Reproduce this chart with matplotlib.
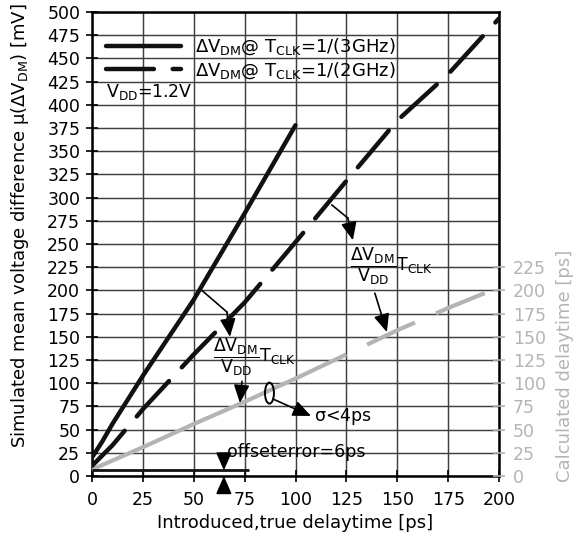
import matplotlib
matplotlib.use("Agg")
import matplotlib.pyplot as plt
from matplotlib.patches import Ellipse

plt.rcParams["font.family"] = ["DejaVu Sans"]
plt.rcParams["mathtext.fontset"] = "custom"
plt.rcParams["mathtext.rm"] = "DejaVu Sans"
plt.rcParams["mathtext.it"] = "DejaVu Sans"
plt.rcParams["mathtext.sf"] = "DejaVu Sans"
plt.rcParams["mathtext.bf"] = "DejaVu Sans:bold"
plt.rcParams["lines.scale_dashes"] = False

# ---- data -------------------------------------------------------------
delay_3ghz = [0, 5, 10, 25, 50, 75, 100]            # introduced delay [ps]
dvdm_3ghz = [20, 37, 56, 108, 190, 283, 378]         # mean dV_DM [mV]

delay_2ghz = [0, 10, 25, 50, 75, 100, 125, 150, 175, 200]
dvdm_2ghz = [11, 33, 72, 131, 187, 252, 318, 383, 433, 493]

delay_true = [0, 25, 50, 75, 100, 125, 150, 175, 194]  # introduced delay [ps]
delay_calc = [7, 31, 56, 80, 105, 131, 157, 181, 198]  # calculated delay [ps]
split_at = 125                                          # solid up to here, dashed beyond

offset_ps = 6
offset_span = 77

x_ticks = list(range(0, 201, 25))
y_ticks = list(range(0, 501, 25))
y2_ticks = list(range(0, 226, 25))

GRAY = "#b4b4b4"
FS = 12.5
LFS = 13

fig = plt.figure(figsize=(5.76, 5.45), dpi=100)
ax = fig.add_axes([92 / 576, 1 - 476 / 545, 407 / 576, 464 / 545])

ax.set_xlim(0, 200)
ax.set_ylim(0, 500)
ax.set_xticks(x_ticks)
ax.set_yticks(y_ticks)
ax.grid(True, color="#404040", lw=1.05)
ax.set_axisbelow(True)
for s in ax.spines.values():
    s.set_linewidth(1.8)
ax.tick_params(direction="inout", length=9, width=1.2, labelsize=FS, pad=4)
ax.tick_params(axis="x", pad=6)

# measured curves
l3, = ax.plot(delay_3ghz, dvdm_3ghz, color="#111111", lw=3.2,
              solid_capstyle="round", solid_joinstyle="round", zorder=4)
l2, = ax.plot(delay_2ghz, dvdm_2ghz, color="#111111", lw=3.2,
              linestyle=(0, (34.5, 13.5)), dash_capstyle="round", zorder=4)

k = delay_true.index(split_at)
ax.plot(delay_true[:k + 1], delay_calc[:k + 1], color=GRAY, lw=3.0,
        solid_capstyle="butt", zorder=3)
ax.plot(delay_true[k:], delay_calc[k:], color=GRAY, lw=3.0,
        linestyle=(38, (38, 16.5)), zorder=3)

# offset marker
ax.hlines(offset_ps, 0, offset_span, color="#111111", lw=2.0, zorder=4)
arr = dict(arrowstyle="-|>,head_length=0.55,head_width=0.24", color="k",
           lw=1.2, mutation_scale=20, shrinkA=0, shrinkB=0)
ax.annotate("", xy=(64.8, offset_ps), xytext=(64.8, 22), arrowprops=arr,
            annotation_clip=False)
ax.annotate("", xy=(64.8, 0), xytext=(64.8, -18), arrowprops=arr,
            annotation_clip=False)
ax.text(66.3, 26, "offseterror=%dps" % offset_ps, fontsize=FS,
        ha="left", va="center")

# legend
leg = ax.legend([l3, l2],
                [r"$\Delta\mathrm{V_{DM}}$@ T$_\mathrm{CLK}$=1/(3GHz)",
                 r"$\Delta\mathrm{V_{DM}}$@ T$_\mathrm{CLK}$=1/(2GHz)"],
                loc="upper left", bbox_to_anchor=(0.017, 0.962), frameon=False,
                fontsize=13, handlelength=4.15, handletextpad=0.78,
                labelspacing=0.15, borderpad=0.4, borderaxespad=0)
ax.text(6.9, 414, r"V$_\mathrm{DD}$=1.2V", fontsize=FS, ha="left", va="center")

frac = r"$\dfrac{\Delta\mathrm{V_{DM}}}{\mathrm{V_{DD}}}\mathrm{T_{CLK}}$"

# leader from 3 GHz curve
ax.plot([54, 66.3], [200, 176.7], color="k", lw=1.2)
ax.annotate("", xy=(67.8, 150), xytext=(66.3, 176.7), arrowprops=arr)
ax.text(59.4, 128, frac, fontsize=FS, ha="left", va="center")
ax.annotate("", xy=(72.7, 78.7), xytext=(73.7, 102), arrowprops=arr)

# leader from 2 GHz curve
ax.plot([117.9, 125.7], [292, 278], color="k", lw=1.2)
ax.annotate("", xy=(128.2, 254), xytext=(125.7, 278), arrowprops=arr)
ax.text(126.7, 226, frac, fontsize=FS, ha="left", va="center")
ax.annotate("", xy=(144.9, 155), xytext=(139, 197), arrowprops=arr)

# spread marker
ax.add_patch(Ellipse((87.2, 89.3), 4.4, 22.6, fill=False, ec="k", lw=1.4, zorder=5))
ax.annotate("", xy=(107.6, 64.7), xytext=(88.9, 83), arrowprops=arr)
ax.text(109, 63.6, r"$\sigma$<4ps", fontsize=FS, ha="left", va="center")

ax.set_xlabel("Introduced,true delaytime [ps]", fontsize=LFS, labelpad=4)
ax.set_ylabel(r"Simulated mean voltage difference $\mu(\Delta\mathrm{V_{DM}})$ [mV]",
              fontsize=LFS)
ax.yaxis.label.set_verticalalignment("center")
ax.yaxis.set_label_coords(-0.177, 0.54)

# secondary delay axis
ax2 = ax.twinx()
ax2.set_ylim(0, 500)
ax2.set_yticks(y2_ticks)
for s in ax2.spines.values():
    s.set_visible(False)
ax2.tick_params(axis="y", direction="inout", length=8, width=1.2, colors=GRAY,
                labelsize=FS, pad=6)
ax.text(1.162, 0.237, "Calculated delaytime [ps]", transform=ax.transAxes,
        rotation=90, ha="center", va="center", color=GRAY, fontsize=LFS)

fig.savefig("out.png", dpi=100)
